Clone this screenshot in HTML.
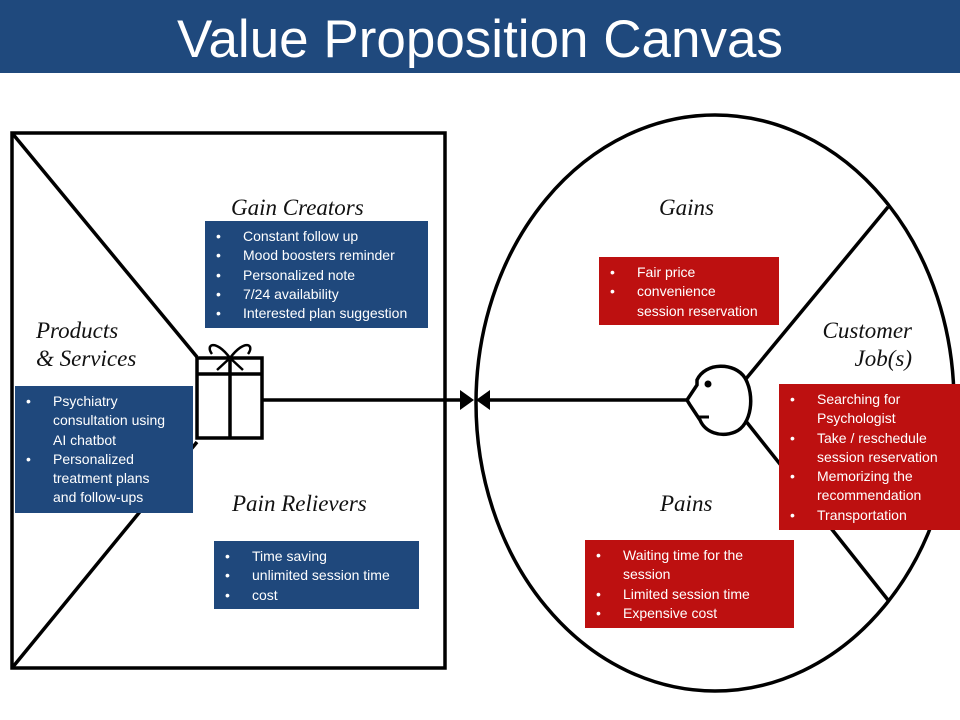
<!DOCTYPE html>
<html><head><meta charset="utf-8"><style>
body{margin:0;width:960px;height:720px;background:#fff;position:relative;overflow:hidden;font-family:"Liberation Sans",sans-serif}
.t{position:absolute;left:0;top:0;width:960px;height:73px;background:#1f497d;color:#fff;font-size:53px;text-align:center;line-height:80px}
.b{position:absolute;color:#fff;font-size:14px;line-height:19.3px;box-sizing:border-box;padding:6px 0 0 0;white-space:nowrap}
.b div{position:relative;padding-left:38px}
.b div.c:before{content:"•";position:absolute;left:11px}
.blue{background:#1f487c}.red{background:#bd1010}
.l{position:absolute;font-family:"Liberation Serif",serif;font-style:italic;font-size:23px;color:#111;line-height:28px}
</style></head><body>
<div class="t">Value Proposition Canvas</div>
<svg width="960" height="720" style="position:absolute;left:0;top:0">
<g stroke="#000" stroke-width="3.5" fill="none">
<rect x="12" y="133" width="433" height="535"/>
<line x1="12" y1="133" x2="197" y2="357"/>
<line x1="12" y1="668" x2="197" y2="442"/>
<ellipse cx="715" cy="403" rx="239" ry="288"/>
<line x1="745" y1="380" x2="888" y2="207"/>
<line x1="745" y1="420" x2="888" y2="600"/>
<line x1="262" y1="400" x2="462" y2="400"/>
<line x1="485" y1="400" x2="687" y2="400"/>
<path d="M697 380 C705 362 735 362 745 378 C755 395 752 425 735 432 C720 438 705 432 700 420 L690 405 L687 400 L697 385 Z" fill="#fff"/>
<rect x="197" y="358" width="65" height="80" fill="#fff"/>
<line x1="197" y1="374" x2="262" y2="374"/>
<line x1="230" y1="360" x2="230" y2="438"/>
<path d="M230 358 C215 338 205 345 212 354 M230 358 C245 338 255 345 248 354 M230 358 L217 370 M230 358 L243 370" stroke-width="2.5"/>
</g>
<circle cx="708" cy="384" r="3.5" fill="#000"/>
<line x1="698" y1="417" x2="709" y2="417" stroke="#000" stroke-width="3"/>
<polygon points="460,390 474,400 460,410" fill="#000"/>
<polygon points="490,390 476,400 490,410" fill="#000"/>
</svg>
<div class="l" style="left:231px;top:194px">Gain Creators</div>
<div class="l" style="left:36px;top:317px">Products<br>&amp; Services</div>
<div class="l" style="left:232px;top:490px">Pain Relievers</div>
<div class="l" style="left:659px;top:194px">Gains</div>
<div class="l" style="left:660px;top:490px">Pains</div>
<div class="l" style="left:812px;top:317px;text-align:right;width:100px">Customer<br>Job(s)</div>
<div class="b blue" style="left:205px;top:221px;width:223px;height:107px"><div class="c">Constant follow up</div><div class="c">Mood  boosters reminder</div><div class="c">Personalized note</div><div class="c">7/24 availability</div><div class="c">Interested plan suggestion</div></div>
<div class="b blue" style="left:15px;top:386px;width:178px;height:127px"><div class="c">Psychiatry<br>consultation using<br>AI chatbot</div><div class="c">Personalized<br>treatment plans<br>and follow-ups</div></div>
<div class="b blue" style="left:214px;top:541px;width:205px;height:68px"><div class="c">Time saving</div><div class="c">unlimited  session time</div><div class="c">cost</div></div>
<div class="b red" style="left:599px;top:257px;width:180px;height:68px"><div class="c">Fair price</div><div class="c">convenience</div><div>session reservation</div></div>
<div class="b red" style="left:779px;top:384px;width:181px;height:146px"><div class="c">Searching for<br>Psychologist</div><div class="c">Take / reschedule<br>session reservation</div><div class="c">Memorizing  the<br>recommendation</div><div class="c">Transportation</div></div>
<div class="b red" style="left:585px;top:540px;width:209px;height:88px"><div class="c">Waiting time  for the<br>session</div><div class="c">Limited session time</div><div class="c">Expensive cost</div></div>
</body></html>
